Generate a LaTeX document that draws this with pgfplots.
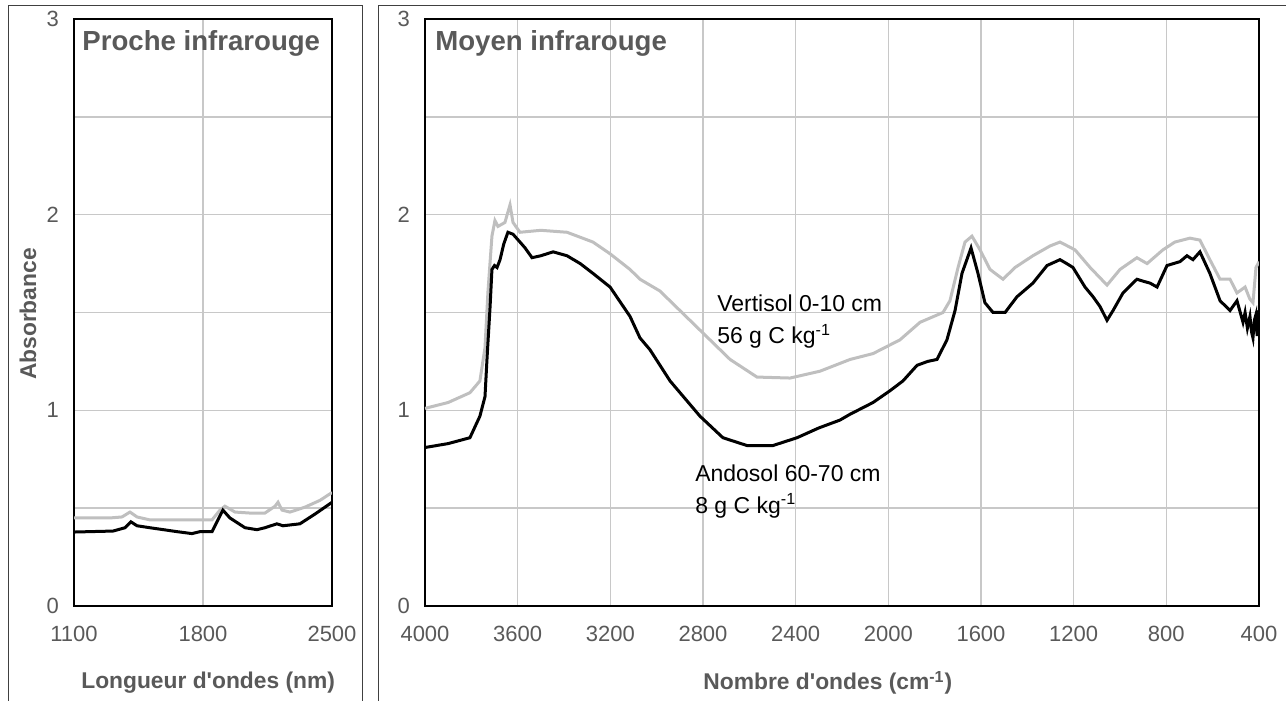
\documentclass[border=0pt]{standalone}
\usepackage{fontspec}
\setmainfont{Liberation Sans}[Ligatures=TeXOff]
\usepackage{pgfplots}
\pgfplotsset{compat=1.18}
\definecolor{txt}{HTML}{595959}
\definecolor{grd}{HTML}{C8C8C8}
\definecolor{vert}{HTML}{BFBFBF}

\pgfplotsset{panel/.style={
  scale only axis, height=293.5pt, anchor=south west,
  clip mode=individual,
  ymin=0, ymax=3, ytick={0,1,2,3}, minor ytick={0.5,1.5,2.5},
  grid=both,
  major grid style={grd, line width=0.75pt},
  minor grid style={grd, line width=0.75pt},
  axis line style={black, line width=1pt},
  major tick length=0pt, minor tick length=0pt,
  tick label style={font=\fontsize{11}{13}\selectfont, text=txt},
  /pgf/number format/assume math mode=true,
  /pgf/number format/1000 sep={},
  scaled x ticks=false,
  xticklabel style={yshift=-6.5pt},
  yticklabel style={xshift=-4pt},
  xlabel style={font=\fontsize{11.4}{14}\selectfont\bfseries, text=txt, anchor=center},
}}

\begin{document}
\begin{tikzpicture}
\useasboundingbox (0,0) rectangle (643pt,350.5pt);

% outer frames
\draw[black!75, line width=0.5pt] (4pt,-10pt) -- (4pt,347.5pt) -- (181pt,347.5pt) -- (181pt,-10pt);
\draw[black!75, line width=0.5pt] (189pt,-10pt) -- (189pt,347.5pt) -- (660pt,347.5pt);

\node[rotate=90, font=\fontsize{11.4}{14}\selectfont\bfseries, text=txt] at (14pt,193.5pt) {Absorbance};

% near infrared
\begin{axis}[panel, at={(37pt,47.5pt)}, width=129pt,
  xmin=1100, xmax=2500, xtick={1100,1800,2500},
  xlabel={Longueur d'ondes (nm)},
  xlabel style={at={(axis description cs:0.52,-0.131)}}]
\addplot[vert, line width=1.5pt] coordinates {
(1100,0.45) (1295,0.45) (1360,0.455) (1404,0.48) (1442,0.455) (1512,0.44)
(1849,0.44) (1892,0.49) (1919,0.51) (1974,0.48) (2055,0.475) (2136,0.475)
(2191,0.51) (2207,0.53) (2229,0.49) (2272,0.48) (2353,0.505) (2435,0.54) (2500,0.58)};
\addplot[black, line width=1.5pt] coordinates {
(1100,0.378) (1312,0.383) (1377,0.40) (1409,0.43) (1442,0.41) (1512,0.40)
(1659,0.38) (1740,0.37) (1784,0.38) (1849,0.38) (1881,0.44) (1908,0.49)
(1946,0.45) (2028,0.40) (2093,0.39) (2136,0.40) (2201,0.42) (2234,0.41)
(2326,0.42) (2408,0.47) (2500,0.53)};
\node[anchor=north west, inner sep=0pt, font=\fontsize{13.8}{16}\selectfont\bfseries, text=txt]
  at (rel axis cs:0.031,0.981) {Proche infrarouge};
\end{axis}

% mid infrared
\begin{axis}[panel, at={(212.5pt,47.5pt)}, width=417pt,
  x dir=reverse, xmin=400, xmax=4000,
  xtick={400,800,...,4000},
  xlabel={Nombre d'ondes (cm\textsuperscript{-1})},
  xlabel style={at={(axis description cs:0.483,-0.131)}}]
\addplot[vert, line width=1.5pt] coordinates {
(4000,1.01) (3900,1.04) (3806,1.09) (3763,1.15) (3741,1.32) (3728,1.61)
(3711,1.89) (3698,1.97) (3685,1.94) (3655,1.96) (3633,2.05) (3620,1.96)
(3590,1.91) (3500,1.92) (3387,1.91) (3275,1.86) (3201,1.80) (3115,1.72)
(3072,1.67) (2986,1.61) (2813,1.41) (2683,1.26) (2567,1.17) (2424,1.165)
(2295,1.20) (2165,1.26) (2066,1.29) (1950,1.36) (1863,1.45) (1764,1.50)
(1734,1.56) (1699,1.73) (1669,1.86) (1639,1.89) (1604,1.82) (1561,1.72)
(1505,1.67) (1453,1.73) (1376,1.79) (1302,1.84) (1259,1.86) (1194,1.82)
(1129,1.73) (1056,1.64) (1000,1.72) (927,1.78) (883,1.75) (815,1.82)
(763,1.86) (698,1.88) (655,1.87) (612,1.77) (568,1.67) (525,1.67)
(495,1.60) (460,1.63) (440,1.57) (426,1.55) (413,1.73) (404,1.75) (400,1.76)};
\addplot[black, line width=1.5pt] coordinates {
(4000,0.81) (3900,0.83) (3806,0.86) (3763,0.97) (3741,1.07) (3732,1.27)
(3719,1.53) (3711,1.72) (3700,1.74) (3689,1.73) (3676,1.77) (3660,1.85)
(3642,1.91) (3620,1.90) (3590,1.86) (3568,1.83) (3538,1.78) (3500,1.79)
(3447,1.81) (3387,1.79) (3330,1.75) (3275,1.70) (3201,1.63) (3115,1.48)
(3072,1.37) (3029,1.31) (2942,1.15) (2813,0.97) (2714,0.86) (2610,0.82)
(2498,0.82) (2394,0.86) (2300,0.91) (2209,0.95) (2165,0.98) (2066,1.04)
(1993,1.10) (1937,1.15) (1876,1.23) (1830,1.25) (1790,1.26) (1747,1.36)
(1712,1.51) (1682,1.70) (1643,1.83) (1613,1.70) (1583,1.55) (1548,1.50)
(1496,1.50) (1445,1.58) (1376,1.65) (1315,1.74) (1259,1.77) (1230,1.75)
(1203,1.73) (1151,1.63) (1116,1.58) (1086,1.53) (1056,1.46) (1030,1.51)
(987,1.60) (927,1.67) (900,1.66) (870,1.65) (840,1.63) (797,1.74)
(741,1.76) (711,1.79) (685,1.77) (655,1.81) (612,1.70) (568,1.56)
(525,1.51) (495,1.56) (469,1.45) (460,1.50) (450,1.42) (439,1.48)
(432,1.40) (426,1.37) (420,1.46) (413,1.49) (408,1.38) (404,1.47) (400,1.51)};
\node[anchor=north west, inner sep=0pt, font=\fontsize{13.8}{16}\selectfont\bfseries, text=txt]
  at (rel axis cs:0.012,0.981) {Moyen infrarouge};
\node[anchor=north west, inner sep=0pt, align=left, font=\fontsize{11.5}{16}\selectfont]
  at (axis cs:2740,1.59) {Vertisol 0-10 cm\\56 g C kg\textsuperscript{-1}};
\node[anchor=north west, inner sep=0pt, align=left, font=\fontsize{11.5}{16}\selectfont]
  at (axis cs:2835,0.726) {Andosol 60-70 cm\\8 g C kg\textsuperscript{-1}};
\end{axis}
\end{tikzpicture}
\end{document}
